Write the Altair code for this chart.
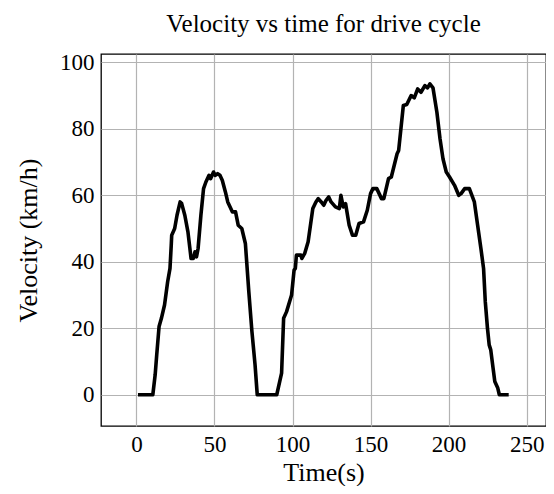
import altair as alt
import pandas as pd

time_s = [1, 10.5, 12, 13, 14.5, 16, 18, 20, 21.5, 22.3, 22.6, 24.5, 26, 28, 29, 31, 33, 35,
          36.5, 37.5, 38.5, 39.5, 41.3, 43, 44.5, 46.5, 47.5, 49.4, 50.5, 52, 53.5, 55, 57,
          58.5, 60, 61.5, 63.5, 65.2, 67.5, 69.8, 72, 74, 76, 77.4, 89.9, 93, 94.3, 96.2,
          99.4, 101, 101.8, 102.5, 105.3, 106, 107.8, 110, 113, 115, 116.5, 118.4, 120,
          121.5, 123.2, 124.7, 127.5, 130, 131, 132.5, 134, 136.3, 138.4, 140.5, 142.6,
          145.5, 147.9, 150, 151.5, 154, 157, 158.5, 161.5, 163.3, 167, 168, 171, 173.2,
          176, 178, 180.2, 182.3, 184.8, 186.5, 188, 190, 192.5, 194.5, 196.4, 198.5,
          200.6, 203.8, 206.5, 208, 210.3, 213.3, 216.5, 218.6, 220.7, 222.4, 223.5, 224.9,
          226, 227, 228.5, 229.6, 231.5, 232.5, 238.5]
velocity_kmh = [0, 0, 6, 12, 20.5, 23, 27, 34, 38, 45, 48, 50, 54, 58, 57.5, 54, 49, 41,
                41, 43, 41.5, 44, 54, 62, 64, 66, 65, 67, 66, 66.5, 66, 64.5, 61,
                58, 56.5, 55, 55, 51, 50, 45.5, 31, 19, 9, 0, 0, 6.5, 23, 25,
                30, 37.5, 38, 42, 42, 41, 42.5, 46, 56, 58, 59, 58, 57,
                58.5, 59.5, 58, 56.5, 56, 60, 56.5, 57.5, 51, 48, 48, 51.5,
                52, 55.5, 60.5, 62, 62, 59, 59, 65, 65.5, 72.5, 73.5, 87, 87.3,
                90, 89.3, 92, 91, 93, 92.3, 93.5, 92.3, 85, 77, 71, 67,
                65.5, 63, 60, 60.5, 62, 62, 58, 51, 44, 38, 28, 20,
                15, 13.5, 8, 4, 2, 0, 0]
x_ticks = [0, 50, 100, 150, 200, 250]
y_ticks = [0, 20, 40, 60, 80, 100]

df = pd.DataFrame({"t": time_s, "v": velocity_kmh})

FONT = "Liberation Serif"
W, H = 445, 372

chart = alt.Chart(df).mark_line(
    color="black", strokeWidth=3.6, strokeJoin="round", clip=True
).encode(
    x=alt.X("t:Q",
            scale=alt.Scale(domain=[-22.7, 262.4], nice=False, zero=False),
            axis=alt.Axis(values=x_ticks, title="Time(s)", grid=True, ticks=False,
                          domain=False, labelPadding=7, labelFontSize=23,
                          titleFontSize=26, titleX=W / 2, titleY=46,
                          titleBaseline="middle", titleAlign="center")),
    y=alt.Y("v:Q",
            scale=alt.Scale(domain=[-9.4, 102.5], nice=False, zero=False),
            axis=alt.Axis(values=y_ticks, title="Velocity (km/h)", grid=True, ticks=False,
                          domain=False, labelPadding=7, labelFontSize=23,
                          titleFontSize=26, titleX=-73, titleY=H / 2, titleAngle=-90,
                          titleBaseline="middle", titleAlign="center")),
).properties(
    width=W,
    height=H,
    title=alt.TitleParams("Velocity vs time for drive cycle", font=FONT, fontSize=25,
                          fontWeight="normal", color="black", baseline="alphabetic",
                          offset=15, dy=21, anchor="middle"),
    autosize=alt.AutoSizeParams(type="none"),
    padding={"left": 93, "top": 46, "right": 0, "bottom": 60},
).configure_axis(
    labelFont=FONT, titleFont=FONT, labelColor="black", titleColor="black",
    titleFontWeight="normal", gridColor="#b3b3b3", gridWidth=1.2, gridOpacity=1,
).configure_view(
    stroke="black", strokeWidth=1.3
)

chart.save("out.html", embed_options={"renderer": "svg", "actions": False})
